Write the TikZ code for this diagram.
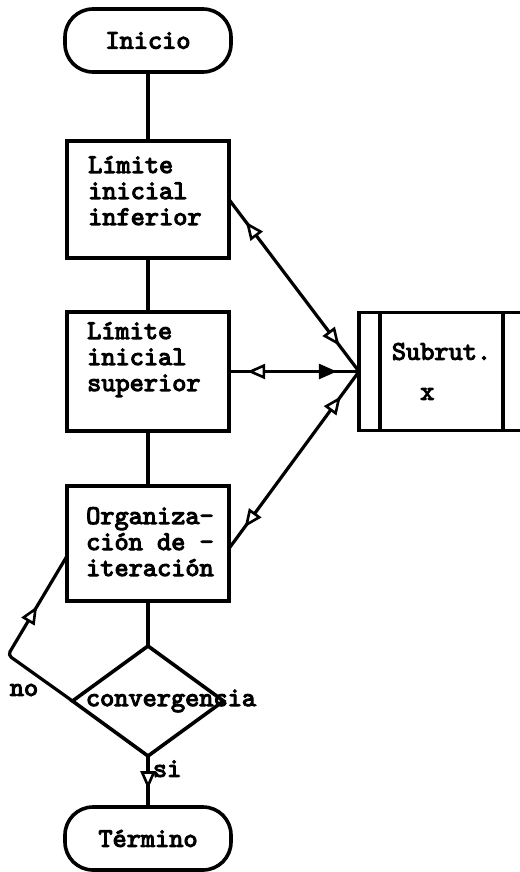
\documentclass[tikz,border=0pt]{standalone}
\usepackage{fontspec}
\setmonofont{lmmono10-regular.otf}[FakeBold=4]
\usepackage{tikz}
\usetikzlibrary{arrows.meta, positioning, shapes.geometric, decorations.markings}

\begin{document}
\begin{tikzpicture}[
  x=1pt, y=-1pt,
  every node/.style={font=\fontsize{27}{26}\selectfont\ttfamily},
  blk/.style={draw, line width=3.6pt, minimum width=162pt, inner sep=0pt, outer sep=0pt},
  term/.style={draw, line width=3.6pt, rounded corners=28pt, minimum width=166pt, minimum height=63pt, outer sep=0pt},
  dec/.style={draw, diamond, line width=3.6pt, minimum width=151pt, minimum height=110pt, inner sep=0pt, outer sep=0pt},
  txt/.style={align=left, inner sep=0pt},
  lnk/.style={line width=3.2pt},
  oneway/.style={decoration={markings,
      mark=at position #1 with {\arrow{Triangle[fill=white, length=18pt, width=15pt, line width=2.6pt]}}}, decorate},
  twoway/.style n args={3}{decoration={markings,
      mark=at position #1 with {\arrowreversed{Triangle[fill=white, length=18pt, width=15pt, line width=2.6pt]}},
      mark=at position #2 with {\arrow{Triangle[fill=#3, length=18pt, width=15pt, line width=2.6pt]}}}, decorate},
]
\useasboundingbox (0,0) rectangle (519,872);

% main column
\node[term] (inicio) at (148,40.5) {Inicio};
\node[blk, minimum height=117pt, below=69pt of inicio] (lim1) {};
\node[txt, anchor=north west] (lim1t) at ([shift={(21pt,-15pt)}]lim1.north west) {Límite\\inicial\\inferior};
\node[blk, minimum height=119pt, below=54pt of lim1] (lim2) {};
\node[txt, anchor=north west] (lim2t) at ([shift={(20pt,-10pt)}]lim2.north west) {Límite\\inicial\\superior};
\node[blk, minimum height=115pt, below=55pt of lim2] (org) {};
\node[txt, anchor=north west] (orgt) at ([shift={(19pt,-21pt)}]org.north west) {Organiza-\\ción de -\\iteración};
\node[dec, below=45pt of org] (conv) {};
\node[txt] (convt) at ([xshift=23pt]conv.center) {convergencia};
\node[term, below=51pt of conv] (fin) {Término};

% subroutine
\node[blk, align=left, minimum width=165pt, minimum height=118pt, right=130pt of lim2] (sub) {Subrut.\\[14pt]\phantom{Su}x};
\draw[line width=3.6pt] ([xshift=21pt]sub.north west) -- ([xshift=21pt]sub.south west);
\draw[line width=3.6pt] ([xshift=-21pt]sub.north east) -- ([xshift=-21pt]sub.south east);

\draw[lnk] (inicio) -- (lim1);
\draw[lnk] (lim1) -- (lim2);
\draw[lnk] (lim2) -- (org);
\draw[lnk] (org) -- (conv);
\draw[lnk] (conv.south) -- node[right, pos=0.25] (si) {si} (fin.north);
\draw[lnk, oneway=0.65] (conv.south) -- (fin.north);

% loop back
\coordinate (nobend) at (8,655);
\draw[lnk, rounded corners=4pt] (conv.west) -- (nobend) -- ([yshift=-12.5pt]org.west);
\draw[lnk, oneway=0.7] (conv.west) -- (nobend) -- ([yshift=-12.5pt]org.west);
\node (nolbl) at (24,690) {no};

\draw[lnk] (lim1.east) -- (sub.west);
\draw[lnk] (lim2.east) -- (sub.west);
\draw[lnk] ([yshift=-5pt]org.east) -- (sub.west);
\draw[lnk, twoway={0.13}{0.85}{white}] (lim1.east) -- (sub.west);
\draw[lnk, twoway={0.14}{0.83}{black}] (lim2.east) -- (sub.west);
\draw[lnk, twoway={0.12}{0.86}{white}] ([yshift=-5pt]org.east) -- (sub.west);
\end{tikzpicture}
\end{document}
